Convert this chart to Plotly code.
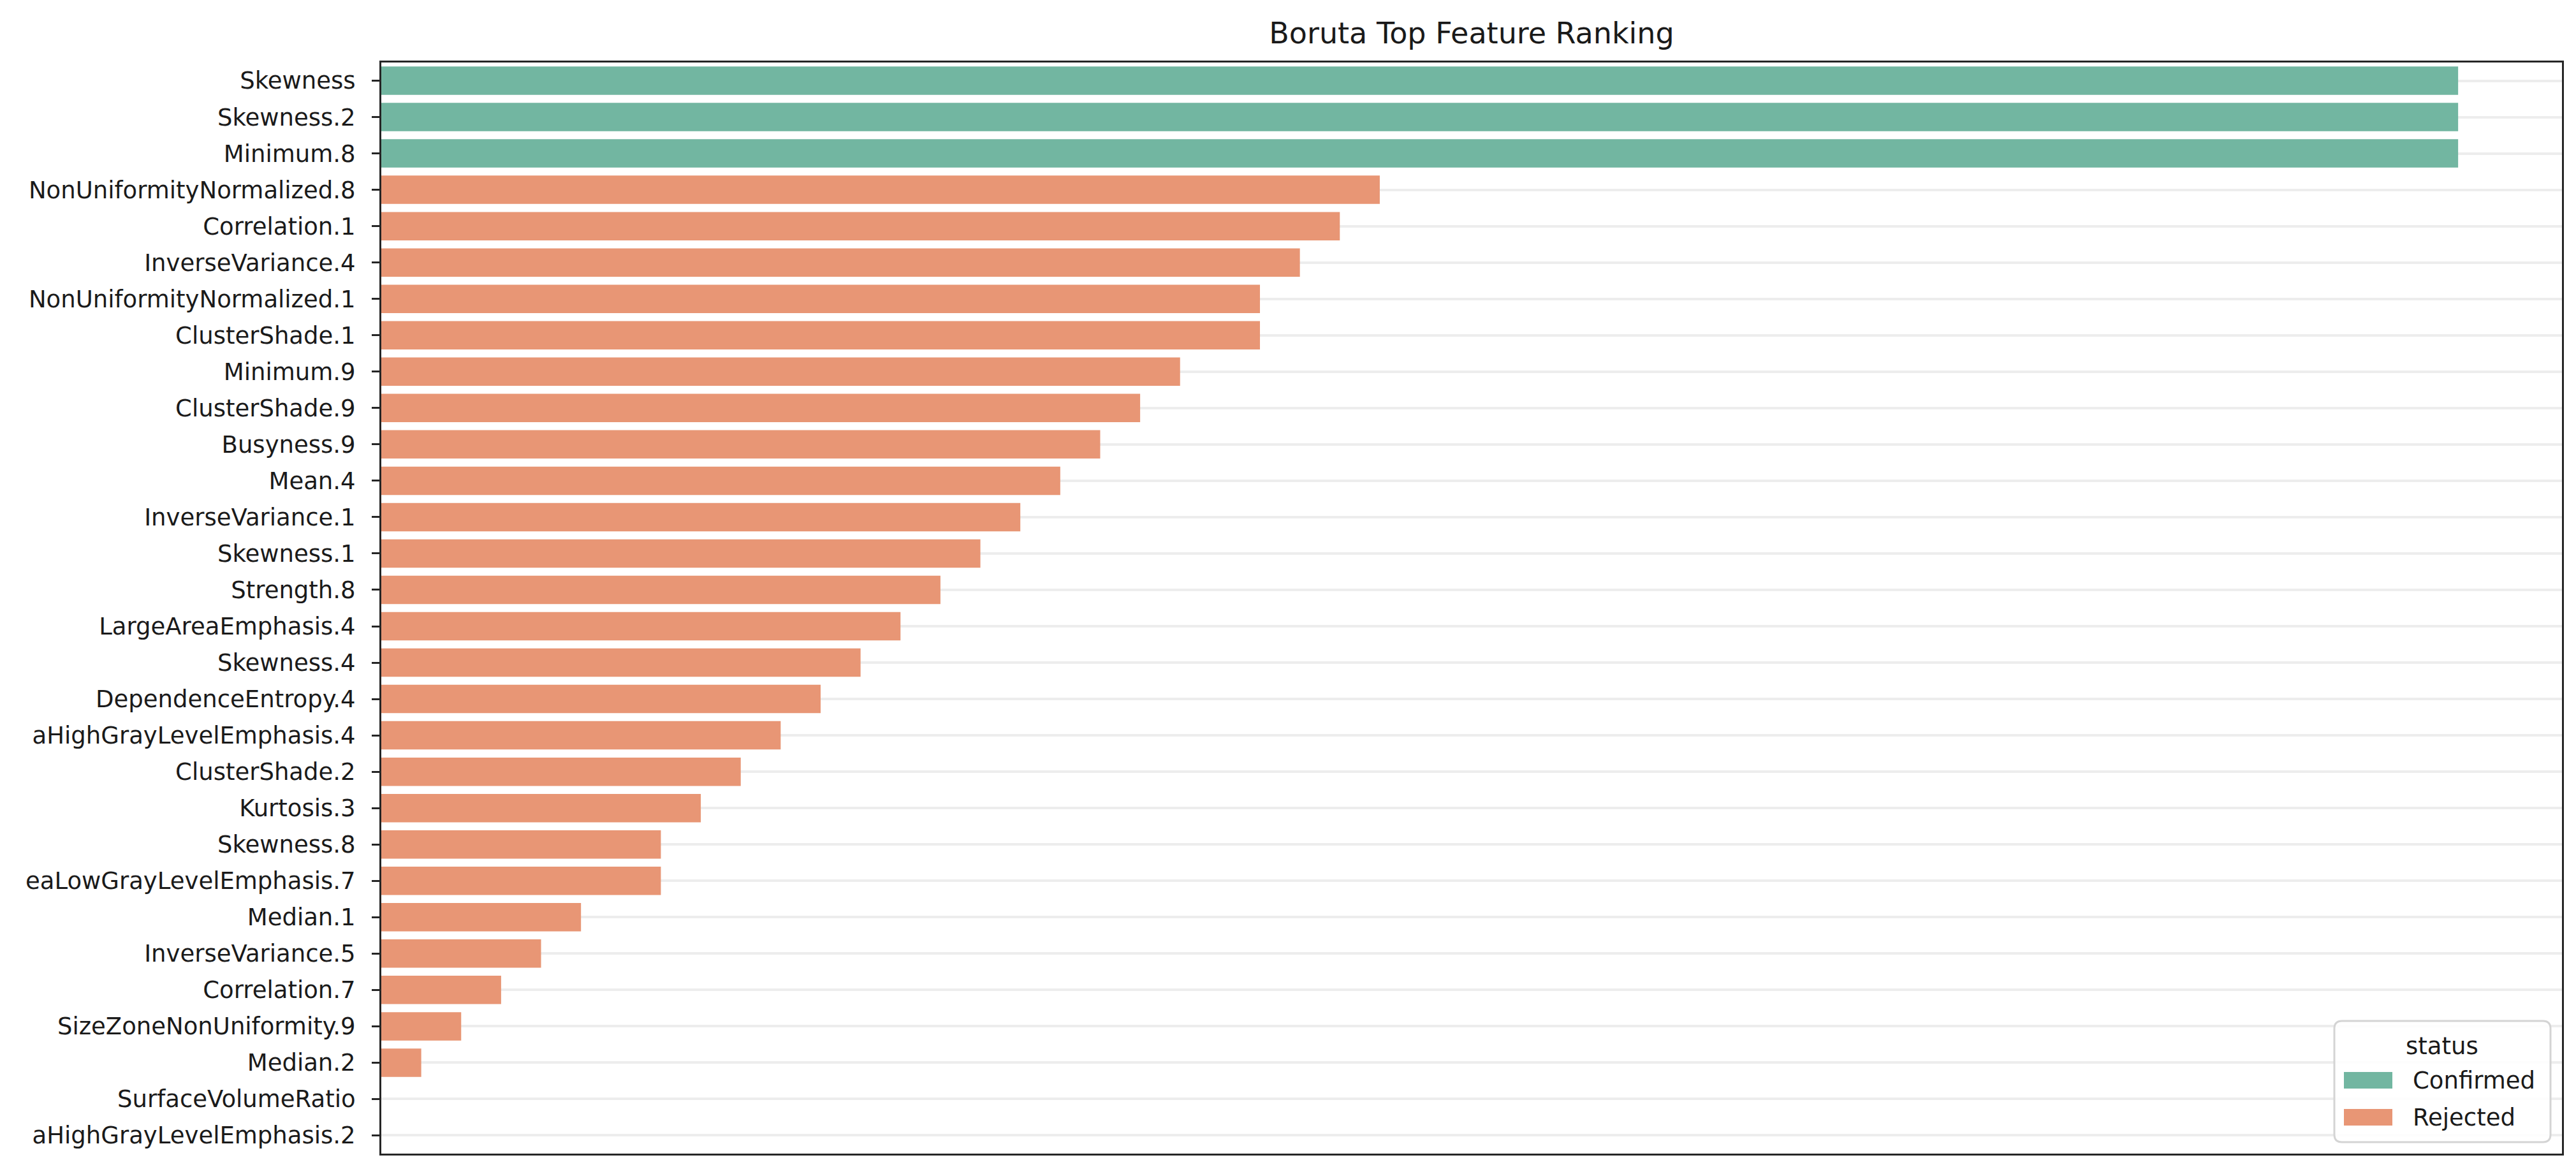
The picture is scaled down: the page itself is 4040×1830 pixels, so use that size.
import plotly.graph_objects as go

features = [
    "Skewness", "Skewness.2", "Minimum.8", "NonUniformityNormalized.8",
    "Correlation.1", "InverseVariance.4", "NonUniformityNormalized.1",
    "ClusterShade.1", "Minimum.9", "ClusterShade.9", "Busyness.9", "Mean.4",
    "InverseVariance.1", "Skewness.1", "Strength.8", "LargeAreaEmphasis.4",
    "Skewness.4", "DependenceEntropy.4", "aHighGrayLevelEmphasis.4",
    "ClusterShade.2", "Kurtosis.3", "Skewness.8", "eaLowGrayLevelEmphasis.7",
    "Median.1", "InverseVariance.5", "Correlation.7", "SizeZoneNonUniformity.9",
    "Median.2", "SurfaceVolumeRatio", "aHighGrayLevelEmphasis.2",
]
scores = [52, 52, 52, 25, 24, 23, 22, 22, 20, 19, 18, 17, 16, 15, 14, 13,
          12, 11, 10, 9, 8, 7, 7, 5, 4, 3, 2, 1, 0, 0]
status = ["Confirmed"] * 3 + ["Rejected"] * 27
status_order = ["Confirmed", "Rejected"]

colors = {"Confirmed": "#72b6a1", "Rejected": "#e89675"}

fig = go.Figure()
for st in status_order:
    ys = [f for f, s in zip(features, status) if s == st]
    xs = [v for v, s in zip(scores, status) if s == st]
    fig.add_trace(go.Bar(
        x=xs, y=ys, orientation="h", name=st, showlegend=False,
        marker=dict(color=colors[st], line=dict(width=0)),
        width=0.78,
    ))

W, H = 4040, 1830
L, R, T, B = 590, 30, 90, 29
PW, PH = W - L - R, H - T - B


def px(x):
    return (x - L) / PW


def py(y):
    return (H - B - y) / PH


# custom legend (matplotlib-style wide swatches)
bx0, bx1, by0, by1, rad = 3653, 3992, 1593, 1783, 12
path = (
    f"M{px(bx0 + rad)},{py(by0)} L{px(bx1 - rad)},{py(by0)} "
    f"Q{px(bx1)},{py(by0)} {px(bx1)},{py(by0 + rad)} "
    f"L{px(bx1)},{py(by1 - rad)} Q{px(bx1)},{py(by1)} {px(bx1 - rad)},{py(by1)} "
    f"L{px(bx0 + rad)},{py(by1)} Q{px(bx0)},{py(by1)} {px(bx0)},{py(by1 - rad)} "
    f"L{px(bx0)},{py(by0 + rad)} Q{px(bx0)},{py(by0)} {px(bx0 + rad)},{py(by0)} Z"
)
shapes = [dict(type="path", xref="paper", yref="paper", path=path,
               fillcolor="rgba(255,255,255,0.85)", line=dict(color="#d4d4d4", width=3))]
annotations = [dict(text="status", x=px(3822), y=py(1632), xref="paper", yref="paper",
                    xanchor="center", yanchor="middle", showarrow=False,
                    font=dict(size=37, color="#1a1a1a"))]
row_y = [1686, 1744]
for st, ry in zip(status_order, row_y):
    shapes.append(dict(type="rect", xref="paper", yref="paper",
                       x0=px(3668), x1=px(3744), y0=py(ry - 13), y1=py(ry + 13),
                       fillcolor=colors[st], line=dict(width=0)))
    annotations.append(dict(text=st, x=px(3774), y=py(ry), xref="paper", yref="paper",
                            xanchor="left", yanchor="middle", showarrow=False,
                            font=dict(size=37, color="#1a1a1a")))

fig.update_layout(
    width=W, height=H,
    margin=dict(l=L, r=R, t=T, b=B, autoexpand=False),
    paper_bgcolor="white", plot_bgcolor="white",
    barmode="overlay",
    font=dict(family="DejaVu Sans", size=37, color="#1a1a1a"),
    title=dict(text="Boruta Top Feature Ranking", x=(L + PW / 2) / W,
               xanchor="center", y=1 - 44 / H, yanchor="middle",
               font=dict(size=46, color="#1a1a1a")),
    showlegend=False,
    shapes=shapes,
    annotations=annotations,
)
fig.update_xaxes(
    range=[0, 54.6], showticklabels=False, showgrid=False, zeroline=False,
    ticks="", showline=True, linecolor="#262626", linewidth=3, mirror=True,
)
fig.update_yaxes(
    type="category", categoryorder="array", categoryarray=features,
    range=[len(features) - 0.5, -0.5], autorange=False,
    showgrid=True, gridcolor="#ededed", gridwidth=4,
    ticks="outside", ticklen=12, tickwidth=3, tickcolor="#262626",
    ticklabelstandoff=18,
    showline=True, linecolor="#262626", linewidth=3, mirror=True,
    tickfont=dict(size=37, color="#1a1a1a"),
)

fig.write_html("out.html")
